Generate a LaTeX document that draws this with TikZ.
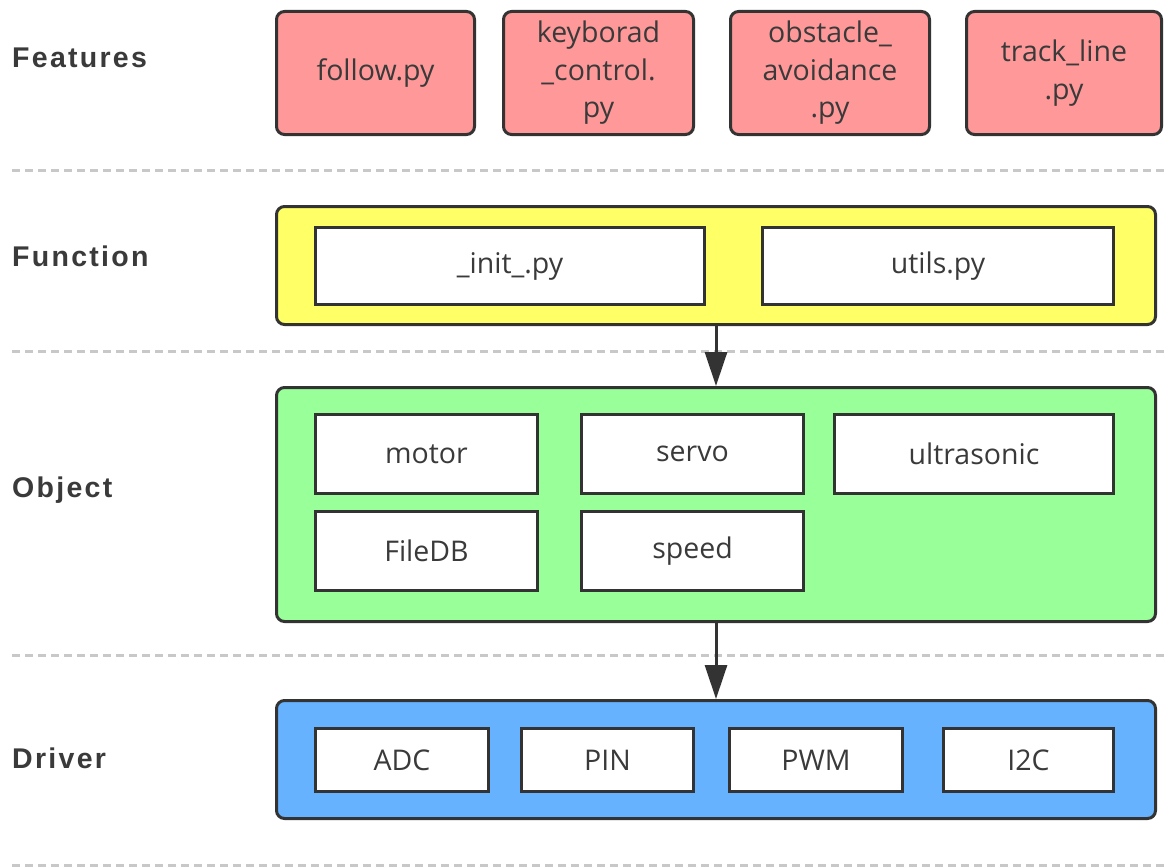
\documentclass[tikz,border=0pt]{standalone}
\usepackage{fontspec}
\setmainfont{Open Sans}
\newfontfamily\labelfont[LetterSpace=8]{Liberation Sans}
\usetikzlibrary{arrows.meta}
\definecolor{edge}{HTML}{333333}
\definecolor{txt}{HTML}{3A3A3A}
\definecolor{pinkfill}{HTML}{FF9999}
\definecolor{yellowfill}{HTML}{FFFF66}
\definecolor{greenfill}{HTML}{99FF99}
\definecolor{bluefill}{HTML}{66B2FF}
\definecolor{dashgray}{HTML}{C8C8C8}
\tikzset{
  every node/.style={text=txt},
  featbox/.style={draw=edge, line width=3pt, fill=pinkfill, rounded corners=8pt,
    align=center, inner sep=0pt, font=\fontsize{28.5}{37.5}\selectfont},
  groupbox/.style={draw=edge, line width=3pt, rounded corners=8pt, inner sep=0pt},
  itembox/.style={draw=edge, line width=3pt, fill=white, inner sep=0pt,
    font=\fontsize{28.5}{37.5}\selectfont},
  layerlabel/.style={anchor=west, inner sep=0pt, font=\labelfont\bfseries\fontsize{28.5}{32}\selectfont},
  sep/.style={draw=dashgray, line width=3pt, dash pattern=on 8pt off 5pt},
  flow/.style={draw=edge, line width=3pt, -{Triangle[length=34pt,width=22pt]}}
}
\begin{document}
\begin{tikzpicture}[x=1pt,y=-1pt]
\useasboundingbox[fill=white] (0,0) rectangle (1167,867);
% separators
\coordinate (s1a) at (12,170); \coordinate (s1b) at (1167,170);
\coordinate (s2a) at (12,351); \coordinate (s2b) at (1167,351);
\coordinate (s3a) at (12,655); \coordinate (s3b) at (1167,655);
\coordinate (s4a) at (12,865); \coordinate (s4b) at (1167,865);
\draw[sep] (s1a) -- (s1b);
\draw[sep] (s2a) -- (s2b);
\draw[sep] (s3a) -- (s3b);
\draw[sep] (s4a) -- (s4b);
% labels
\node[layerlabel] (lf) at (12,58) {Features};
\node[layerlabel] (lfn) at (12,256) {Function};
\node[layerlabel] (lo) at (12,490) {Object};
\node[layerlabel] (ld) at (12,758) {Driver};
% features
\node[featbox, minimum width=198pt, minimum height=123pt] (follow) at (375.5,73) {follow.py};
\node[featbox, minimum width=190pt, minimum height=123pt] (kbd) at (598.5,73) {keyborad\\\_control.\\py};
\node[featbox, minimum width=199pt, minimum height=123pt] (obs) at (830,73) {obstacle\_\\avoidance\\.py};
\node[featbox, minimum width=195pt, minimum height=123pt] (track) at (1064,73) {track\_line\\.py};
% function
\node[groupbox, fill=yellowfill, minimum width=879pt, minimum height=118pt] (func) at (716,265.5) {};
\node[itembox, minimum width=389pt, minimum height=77pt] (init) at (510,266) {\_init\_.py};
\node[itembox, minimum width=351pt, minimum height=77pt] (utils) at (938,266) {utils.py};
% object
\node[groupbox, fill=greenfill, minimum width=879pt, minimum height=234pt] (obj) at (716,504.5) {};
\node[itembox, minimum width=222pt, minimum height=79pt] (motor) at (426.5,454) {motor};
\node[itembox, minimum width=222pt, minimum height=79pt] (servo) at (692.5,454) {servo};
\node[itembox, minimum width=279pt, minimum height=79pt] (ultra) at (974,454) {ultrasonic};
\node[itembox, minimum width=222pt, minimum height=79pt] (filedb) at (426.5,551) {FileDB};
\node[itembox, minimum width=222pt, minimum height=79pt] (speed) at (692.5,551) {speed};
% driver
\node[groupbox, fill=bluefill, minimum width=879pt, minimum height=118pt] (drv) at (716,759.5) {};
\node[itembox, minimum width=173pt, minimum height=63pt] (adc) at (402,760) {ADC};
\node[itembox, minimum width=172pt, minimum height=63pt] (pin) at (607.5,760) {PIN};
\node[itembox, minimum width=173pt, minimum height=63pt] (pwm) at (816,760) {PWM};
\node[itembox, minimum width=170pt, minimum height=63pt] (i2c) at (1028.5,760) {I2C};
% arrows
\draw[flow] (func.south) -- (obj.north);
\draw[flow] (obj.south) -- (drv.north);
\end{tikzpicture}
\end{document}
